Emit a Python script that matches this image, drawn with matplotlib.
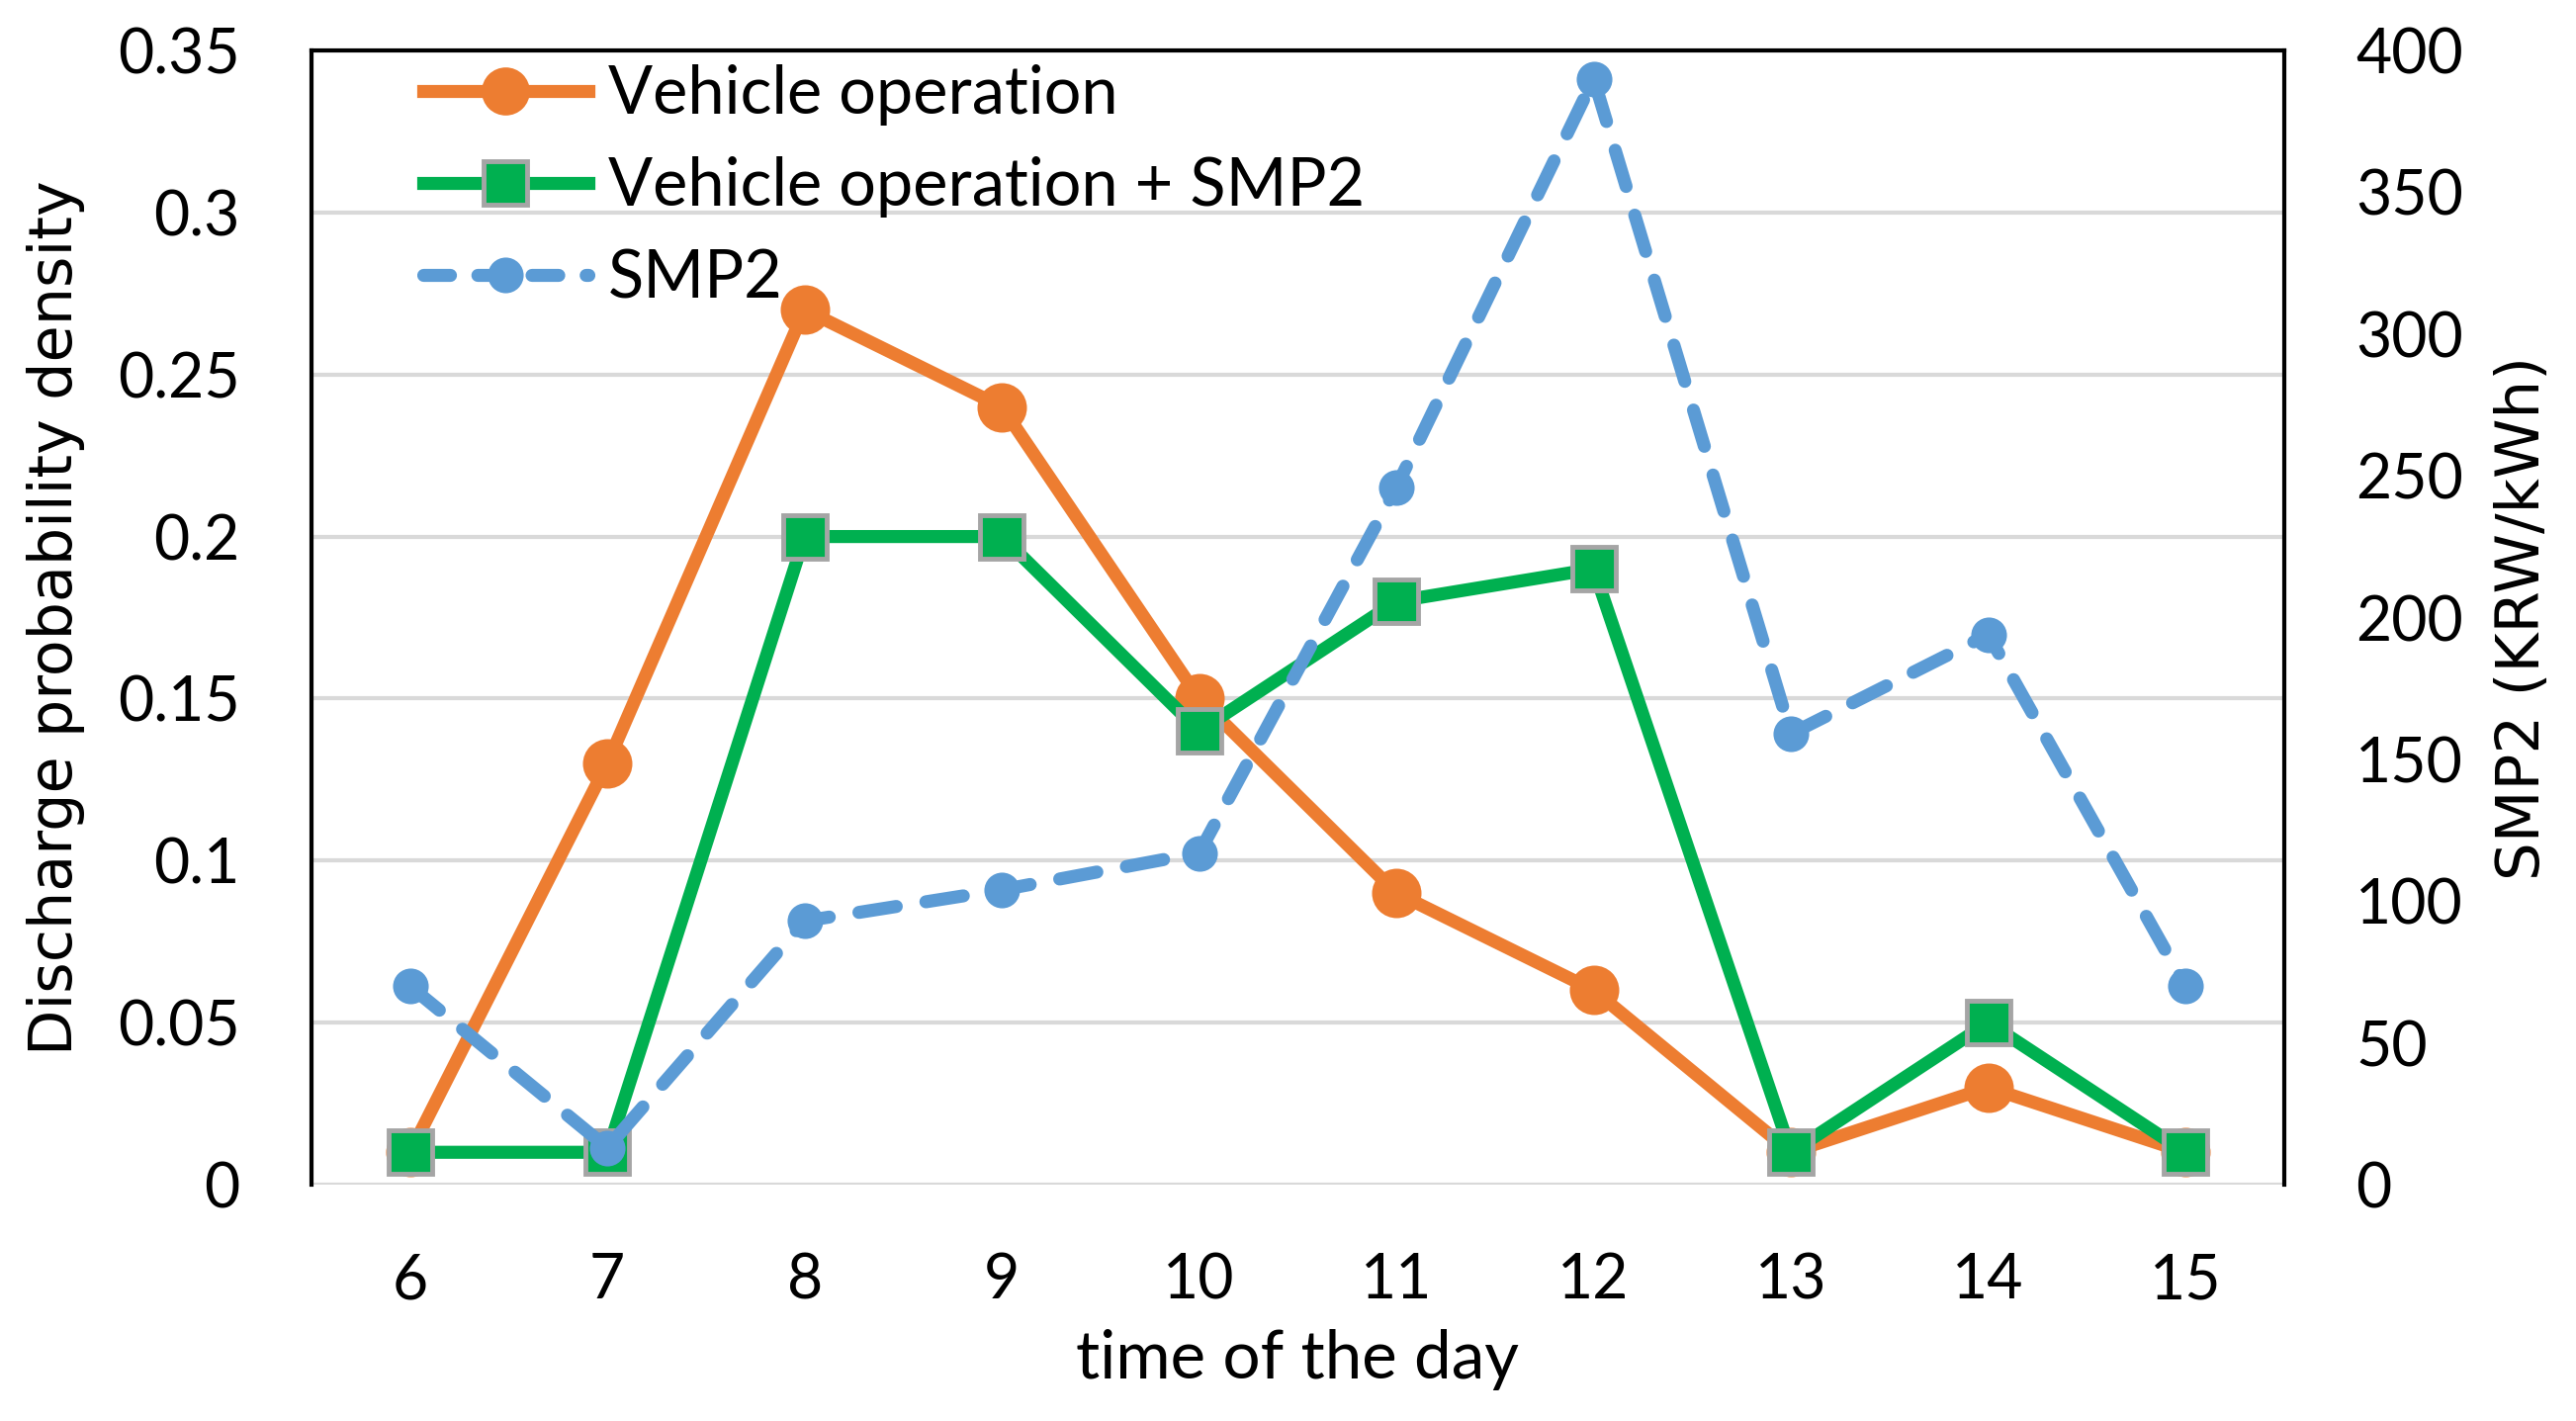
import matplotlib.pyplot as plt
from matplotlib.lines import Line2D

# data
hours = [6, 7, 8, 9, 10, 11, 12, 13, 14, 15]
vehicle_op = [0.01, 0.13, 0.27, 0.24, 0.15, 0.09, 0.06, 0.01, 0.03, 0.01]
vehicle_op_smp2 = [0.01, 0.01, 0.20, 0.20, 0.14, 0.18, 0.19, 0.01, 0.05, 0.01]
smp2 = [70, 13, 93, 104, 117, 246, 390, 159, 194, 70]

left_ticks = [0, 0.05, 0.1, 0.15, 0.2, 0.25, 0.3, 0.35]
left_tick_labels = ['0', '0.05', '0.1', '0.15', '0.2', '0.25', '0.3', '0.35']
right_ticks = [0, 50, 100, 150, 200, 250, 300, 350, 400]

series_labels = ['Vehicle operation', 'Vehicle operation + SMP2', 'SMP2']

ORANGE = '#ED7D31'
GREEN = '#00B050'
BLUE = '#5B9BD5'
EDGE = '#A5A5A5'
GRID = '#D9D9D9'

tick_font = ['Lato', 'DejaVu Sans']
label_font = ['DejaVu Sans']
FS = 45
LW = 9.5

fig = plt.figure(figsize=(26.05, 14.37), dpi=100)
ax1 = fig.add_axes([0.1209, 0.1663, 0.7658, 0.7982])
ax2 = ax1.twinx()

ax1.plot(hours, vehicle_op, color=ORANGE, lw=LW, marker='o', markersize=36,
         markeredgewidth=0, zorder=3)
ax1.plot(hours, vehicle_op_smp2, color=GREEN, lw=LW, marker='s', markersize=31,
         markerfacecolor=GREEN, markeredgecolor=EDGE, markeredgewidth=3.5, zorder=4)
ax2.plot(hours, smp2, color=BLUE, lw=LW, marker='o', markersize=26,
         markeredgewidth=0, dashes=(2.9, 2.3), dash_capstyle='round', zorder=5)

ax1.set_xlim(5.5, 15.5)
ax1.set_ylim(0, 0.35)
ax2.set_ylim(0, 400)
ax1.set_xticks(hours)
ax1.set_xticklabels([str(h) for h in hours], fontsize=FS, family=tick_font)
ax1.set_yticks(left_ticks)
ax1.set_yticklabels(left_tick_labels, fontsize=FS, family=tick_font)
ax2.set_yticks(right_ticks)
ax2.set_yticklabels([str(t) for t in right_ticks], fontsize=FS, family=tick_font)

ax1.tick_params(axis='x', length=0, pad=49)
ax1.tick_params(axis='y', length=0, pad=52)
ax2.tick_params(axis='y', length=0, pad=52)

ax1.yaxis.grid(True, color=GRID, lw=3)
ax1.set_axisbelow(True)

for side in ['top', 'left', 'right']:
    ax1.spines[side].set_color('black')
    ax1.spines[side].set_linewidth(3)
ax1.spines['bottom'].set_visible(False)
for side in ax2.spines:
    ax2.spines[side].set_visible(False)

ax1.set_xlabel('time of the day', fontsize=48.5, family=tick_font, labelpad=14)
ax1.set_ylabel('Discharge probability density', fontsize=43.5, family=label_font, labelpad=24)
ax2.set_ylabel('SMP2 (KRW/kWh)', fontsize=44, family=label_font, labelpad=22)

handles = [
    Line2D([], [], color=ORANGE, lw=LW, marker='o', markersize=35, markeredgewidth=0),
    Line2D([], [], color=GREEN, lw=LW, marker='s', markersize=31,
           markeredgecolor=EDGE, markeredgewidth=3.5),
    Line2D([], [], color=BLUE, lw=LW, marker='o', markersize=26, markeredgewidth=0,
           dashes=(2.05, 2.1), dash_capstyle='round'),
]
leg = ax2.legend(handles, series_labels, loc='upper left', bbox_to_anchor=(0.04, 1.017),
                 frameon=False, prop={'family': tick_font, 'size': 48},
                 handlelength=2.5, handletextpad=0.3, labelspacing=0.47,
                 borderaxespad=0.1)

fig.savefig('out.png', dpi=100)
